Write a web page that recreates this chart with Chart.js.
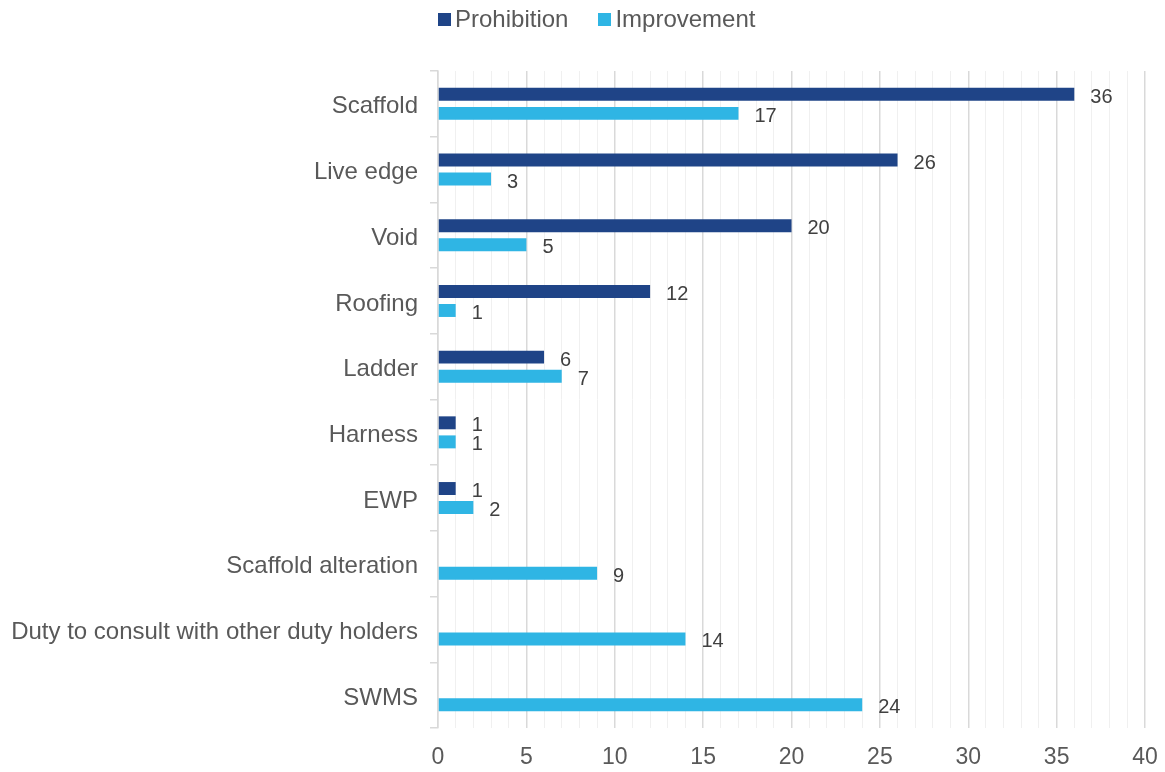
<!DOCTYPE html>
<html>
<head>
<meta charset="utf-8">
<script src="https://cdn.jsdelivr.net/npm/chart.js@4.4.1/dist/chart.umd.min.js"></script>
<style>
  html, body { margin: 0; padding: 0; background: #fff; }
  #wrap { width: 1165px; height: 772px; position: relative; }
  #legend {
    position: absolute; top: 5px; left: 438px; height: 28px;
    display: flex; align-items: center;
    font-family: 'Liberation Sans', Arial, sans-serif; font-size: 24px; color: #595959;
  }
  #legend .item { display: flex; align-items: center; margin-right: 30px; }
  #legend .box { width: 13px; height: 13px; margin-right: 4px; }
</style>
</head>
<body>
<div id="wrap">
  <canvas id="notices"></canvas>
  <div id="legend"></div>
</div>
<script>
const categories = ['Scaffold', 'Live edge', 'Void', 'Roofing', 'Ladder', 'Harness', 'EWP',
    'Scaffold alteration', 'Duty to consult with other duty holders', 'SWMS'];
const prohibition = [36, 26, 20, 12, 6, 1, 1, null, null, null];
const improvement = [17, 3, 5, 1, 7, 1, 2, 9, 14, 24];
const xTicks = [0, 5, 10, 15, 20, 25, 30, 35, 40];
const seriesNames = ['Prohibition', 'Improvement'];
const seriesColors = ['#1f4487', '#2fb5e4'];

const FONT = "'Liberation Sans', Arial, sans-serif";
const ctx = document.getElementById('notices').getContext('2d');

const chart = new Chart(ctx, {
    type: 'bar',
    data: {
        labels: categories,
        datasets: [
            { label: seriesNames[0], data: prohibition, backgroundColor: seriesColors[0] },
            { label: seriesNames[1], data: improvement, backgroundColor: seriesColors[1] }
        ]
    },
    options: {
        indexAxis: 'y',
        responsive: true,
        maintainAspectRatio: false,
        animation: false,
        datasets: { bar: { categoryPercentage: 0.58, barPercentage: 0.68 } },
        layout: { padding: { left: 0, right: 20, top: 71, bottom: 0 } },
        scales: {
            x: {
                min: 0,
                max: 40,
                border: { display: false },
                grid: {
                    drawTicks: false,
                    color: c => (c.tick && c.tick.value % 5 === 0) ? '#d9d9d9' : '#f0f0f0',
                    lineWidth: c => (c.tick && c.tick.value % 5 === 0) ? 1.5 : 1
                },
                ticks: {
                    stepSize: 1,
                    autoSkip: false,
                    maxRotation: 0,
                    padding: 16,
                    color: '#595959',
                    font: { family: FONT, size: 23 },
                    callback: v => xTicks.includes(v) ? v : ''
                },
                afterFit(scale) {
                    scale.height = 44;
                    // the "40" label fits in the layout padding
                    scale.paddingRight = 0;
                }
            },
            y: {
                border: { display: true, color: '#d9d9d9', width: 1.5 },
                grid: { drawOnChartArea: false, tickLength: 8, color: '#d9d9d9', lineWidth: 1.5 },
                ticks: {
                    padding: 12,
                    labelOffset: 3,
                    color: '#595959',
                    font: { family: FONT, size: 24 }
                },
                afterFit(scale) { scale.width = 438; }
            }
        },
        plugins: {
            legend: { display: false },
            tooltip: { enabled: false }
        }
    },
    plugins: [{
        id: 'barValues',
        afterDatasetsDraw(chart) {
            const { ctx, data } = chart;
            ctx.save();
            ctx.fillStyle = '#404040';
            ctx.font = '20px ' + FONT;
            ctx.textAlign = 'left';
            ctx.textBaseline = 'middle';
            data.datasets.forEach((ds, di) => {
                chart.getDatasetMeta(di).data.forEach((bar, i) => {
                    const v = ds.data[i];
                    if (v === null || v === undefined) return;
                    ctx.fillText(v, bar.x + 16, bar.y + 3);
                });
            });
            ctx.restore();
        }
    }]
});

// legend as plain html above the plot
const legendEl = document.getElementById('legend');
chart.data.datasets.forEach(ds => {
    legendEl.innerHTML += `<span class="item"><span class="box" style="background:${ds.backgroundColor}"></span>${ds.label}</span>`;
});
</script>
</body>
</html>
